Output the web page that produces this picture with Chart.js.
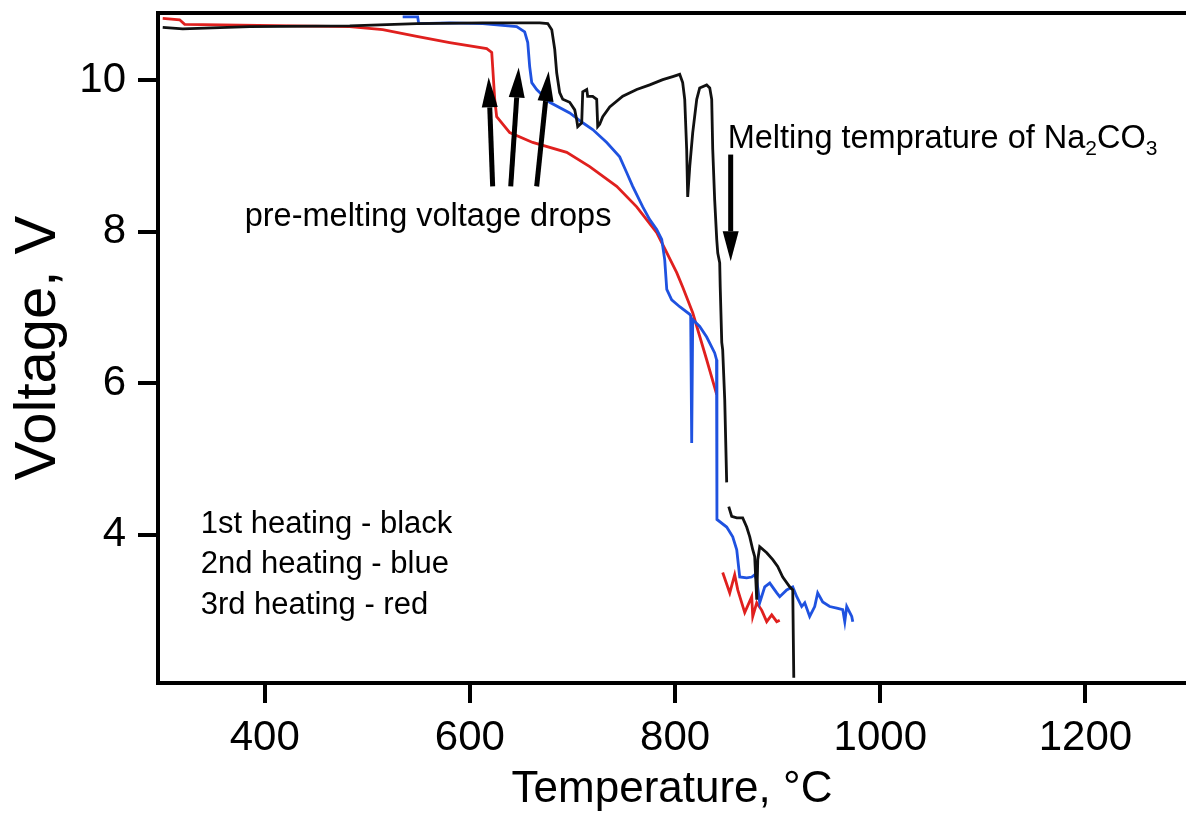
<!DOCTYPE html>
<html>
<head>
<meta charset="utf-8">
<script src="https://cdn.jsdelivr.net/npm/chart.js@4.4.1/dist/chart.umd.min.js"></script>
<style>
html,body{margin:0;padding:0;background:#fff;}
#wrap{width:1186px;height:816px;position:relative;}
</style>
</head>
<body>
<div id="wrap"><canvas id="c" width="1186" height="816"></canvas></div>
<script>
// ---- data ----
const xTicks = [400, 600, 800, 1000, 1200];
const yTicks = [4, 6, 8, 10];

// 1st heating - black
const blackT = [300.6, 320.1, 385.4, 482.9, 548.2, 612.5, 668.1, 675.9, 679.8, 682.7, 684.6, 687.5, 690.5, 697.3, 702.2, 704.1, 705.1, 709.0, 710.0, 713.9, 714.8, 719.7, 723.6, 724.6, 726.5, 729.5, 736.3, 749.0, 762.6, 775.3, 788.0, 797.7, 804.5, 807.4, 809.4, 811.3, 812.3, 814.3, 817.2, 821.1, 824.0, 830.8, 833.8, 835.7, 836.7, 838.6, 840.6, 841.6, 843.5, 844.0, 845.5, 846.4, 848.4, 850.3, 851.3, 852.3, 855.2, 860.1, 865.9, 869.8, 872.8, 875.7, 877.6, 879.6, 880.6, 882.5, 889.3, 895.2, 900.0, 904.9, 911.7, 914.7, 915.7];
const blackV = [10.70, 10.68, 10.71, 10.72, 10.75, 10.76, 10.76, 10.75, 10.67, 10.41, 10.10, 9.84, 9.75, 9.71, 9.61, 9.48, 9.39, 9.44, 9.85, 9.88, 9.79, 9.79, 9.75, 9.39, 9.42, 9.52, 9.65, 9.79, 9.88, 9.94, 10.01, 10.05, 10.08, 9.97, 9.75, 9.09, 8.46, 8.86, 9.31, 9.75, 9.90, 9.94, 9.90, 9.75, 9.09, 8.42, 7.90, 7.72, 7.59, 7.27, 6.54, 6.44, 5.78, 4.69, null, 4.37, 4.24, 4.22, 4.22, 4.10, 3.97, 3.80, 3.71, 3.14, 3.67, 3.84, 3.76, 3.67, 3.58, 3.44, 3.31, 3.27, 2.11];

// 2nd heating - blue
const blueT = [534.5, 549.1, 550.1, 580.3, 612.5, 645.6, 653.4, 656.4, 658.3, 660.3, 665.1, 677.8, 697.3, 710.0, 719.7, 733.4, 746.0, 752.9, 758.7, 768.5, 775.3, 782.1, 787.0, 789.9, 791.9, 796.7, 804.5, 814.3, 815.2, 816.2, 817.2, 824.0, 830.8, 838.6, 840.4, 840.8, 850.3, 856.2, 860.1, 863.0, 869.8, 874.7, 877.6, 879.6, 882.5, 887.4, 892.3, 899.1, 902.0, 908.8, 914.7, 918.6, 923.4, 926.4, 931.2, 936.1, 939.0, 943.9, 950.7, 957.6, 963.4, 965.4, 967.3, 972.2, 973.2];
const blueV = [10.84, 10.84, 10.75, 10.76, 10.75, 10.71, 10.64, 10.50, 10.18, 9.97, 9.88, 9.71, 9.57, 9.44, 9.35, 9.18, 8.99, 8.78, 8.60, 8.33, 8.16, 8.03, 7.90, 7.63, 7.24, 7.10, 7.01, 6.91, 6.89, 5.21, 6.84, 6.75, 6.61, 6.40, 6.31, 4.20, 4.10, 3.97, 3.80, 3.44, 3.43, 3.44, 3.47, 3.40, 3.10, 3.31, 3.36, 3.23, 3.18, 3.27, 3.31, 3.18, 3.05, 3.10, 2.92, 3.05, 3.23, 3.11, 3.05, 3.03, 3.01, 2.85, 3.05, 2.92, 2.85];

// 3rd heating - red
const redT = [300.6, 317.1, 322.0, 482.9, 515.0, 548.2, 580.3, 616.4, 621.3, 622.2, 624.2, 626.1, 638.8, 661.2, 694.4, 716.8, 743.1, 762.6, 782.1, 801.6, 807.4, 817.2, 830.8, 840.6, 843.0, 846.4, 853.3, 858.1, 861.1, 867.9, 874.7, 875.7, 879.6, 884.5, 889.3, 894.2, 899.1, 902.0];
const redV = [10.82, 10.80, 10.74, 10.71, 10.67, 10.58, 10.50, 10.42, 10.37, 10.18, 9.75, 9.52, 9.31, 9.18, 9.05, 8.86, 8.60, 8.33, 7.99, 7.46, 7.27, 6.93, 6.31, 5.85, null, 3.50, 3.23, 3.47, 3.27, 2.97, 3.18, 2.92, 3.10, 3.00, 2.85, 2.94, 2.85, 2.87];

function zip(t, v){ return t.map((x,i)=>({x:x, y:v[i]})); }

// annotation anchors (data coordinates)
const arrowsUp = [
  {from:[622.2, 8.60], to:[618.3, 10.04]},
  {from:[639.8, 8.60], to:[647.6, 10.17]},
  {from:[665.1, 8.60], to:[676.8, 10.12]}
];
const arrowDown = {from:[854.2, 9.02], to:[854.2, 7.61]};
const noteDrops = {x:380.5, y:8.20, text:'pre-melting voltage drops'};
const noteMelt = {x:851.3, y:9.22};
const legendNotes = [
  {x:337.6, y:4.14, text:'1st heating - black'},
  {x:337.6, y:3.60, text:'2nd heating - blue'},
  {x:337.6, y:3.07, text:'3rd heating - red'}
];

const FONT = '"Liberation Sans", Arial, sans-serif';

const frame = {
  id:'frame',
  afterDraw(chart){
    const {ctx, chartArea:a} = chart;
    ctx.save();
    ctx.strokeStyle = '#000';
    ctx.lineWidth = 4;
    ctx.beginPath();
    ctx.moveTo(a.left-2, a.top);
    ctx.lineTo(a.right, a.top);
    ctx.stroke();
    ctx.restore();
  }
};

function drawArrow(ctx, x1, y1, x2, y2){
  const ang = Math.atan2(y2-y1, x2-x1);
  const headLen = 30, headW = 8;
  const bx = x2 - headLen*Math.cos(ang), by = y2 - headLen*Math.sin(ang);
  ctx.beginPath();
  ctx.moveTo(x1, y1);
  ctx.lineTo(bx, by);
  ctx.lineWidth = 5;
  ctx.stroke();
  ctx.beginPath();
  ctx.moveTo(x2, y2);
  ctx.lineTo(bx + headW*Math.sin(ang), by - headW*Math.cos(ang));
  ctx.lineTo(bx - headW*Math.sin(ang), by + headW*Math.cos(ang));
  ctx.closePath();
  ctx.fill();
}

const notes = {
  id:'notes',
  afterDatasetsDraw(chart){
    const {ctx, scales:{x, y}} = chart;
    ctx.save();
    ctx.fillStyle = '#000';
    ctx.strokeStyle = '#000';
    arrowsUp.concat([arrowDown]).forEach(a=>{
      drawArrow(ctx, x.getPixelForValue(a.from[0]), y.getPixelForValue(a.from[1]),
                     x.getPixelForValue(a.to[0]), y.getPixelForValue(a.to[1]));
    });
    ctx.textBaseline = 'middle';
    ctx.textAlign = 'left';
    ctx.font = '32.5px ' + FONT;
    ctx.fillText(noteDrops.text, x.getPixelForValue(noteDrops.x), y.getPixelForValue(noteDrops.y));
    // Melting temprature of Na2CO3
    let px = x.getPixelForValue(noteMelt.x), py = y.getPixelForValue(noteMelt.y);
    const parts = [['Melting temprature of Na',0],['2',1],['CO',0],['3',1]];
    parts.forEach(p=>{
      if(p[1]){ ctx.font = '21px ' + FONT; ctx.fillText(p[0], px, py+10); }
      else { ctx.font = '32.5px ' + FONT; ctx.fillText(p[0], px, py); }
      px += ctx.measureText(p[0]).width;
    });
    ctx.font = '31px ' + FONT;
    legendNotes.forEach(n=>{
      ctx.fillText(n.text, x.getPixelForValue(n.x), y.getPixelForValue(n.y));
    });
    ctx.restore();
  }
};

const common = {showLine:true, pointRadius:0, borderWidth:2.8, spanGaps:false, tension:0, fill:false};

new Chart(document.getElementById('c'), {
  type:'scatter',
  data:{
    datasets:[
      Object.assign({label:'1st heating', data:zip(blackT, blackV), borderColor:'#111111'}, common),
      Object.assign({label:'2nd heating', data:zip(blueT, blueV), borderColor:'#1f52e0'}, common),
      Object.assign({label:'3rd heating', data:zip(redT, redV), borderColor:'#e0201e'}, common)
    ]
  },
  options:{
    responsive:false,
    animation:false,
    layout:{padding:{top:13, right:0, left:0, bottom:0}},
    plugins:{legend:{display:false}, tooltip:{enabled:false}},
    scales:{
      x:{
        type:'linear', min:296, max:1298,
        afterBuildTicks(s){ s.ticks = xTicks.map(v=>({value:v})); },
        afterFit(s){ s.height = 133; s.paddingLeft = 0; s.paddingRight = 0; },
        grid:{drawOnChartArea:false, drawTicks:true, tickLength:20, lineWidth:4, color:'#000'},
        border:{display:true, width:4, color:'#000'},
        ticks:{color:'#000', font:{family:FONT, size:42}, padding:10, maxRotation:0, callback:(v)=>String(v)},
        title:{display:true, text:'Temperature, °C', color:'#000', font:{family:FONT, size:44}, padding:{top:0, bottom:0}}
      },
      y:{
        type:'linear', min:2.04, max:10.89,
        afterBuildTicks(s){ s.ticks = yTicks.map(v=>({value:v})); },
        afterFit(s){ s.width = 158; s.paddingTop = 0; s.paddingBottom = 0; },
        grid:{drawOnChartArea:false, drawTicks:true, tickLength:20, lineWidth:4, color:'#000'},
        border:{display:true, width:4, color:'#000'},
        ticks:{color:'#000', font:{family:FONT, size:42}, padding:12, callback:(v)=>String(v)},
        title:{display:true, text:'Voltage, V', color:'#000', font:{family:FONT, size:58}, padding:{top:4, bottom:0}}
      }
    }
  },
  plugins:[frame, notes]
});
</script>
</body>
</html>
